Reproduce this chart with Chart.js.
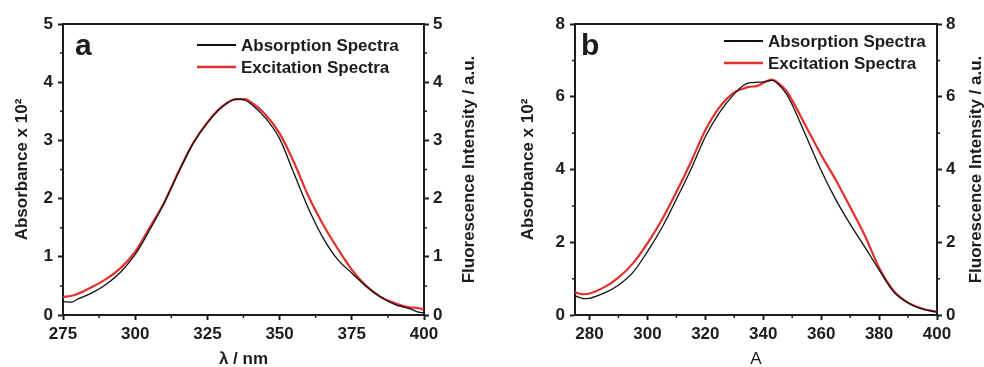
<!DOCTYPE html>
<html>
<head>
<meta charset="utf-8">
<script src="https://cdn.jsdelivr.net/npm/chart.js@4.4.0/dist/chart.umd.min.js"></script>
<style>
    body { margin: 0; background: #fff; }
    .panel { position: absolute; top: 0; height: 367px; }
</style>
</head>
<body>
<div class="panel" style="left:0;width:490px"><canvas id="chartA" width="490" height="367"></canvas></div>
<div class="panel" style="left:490px;width:494px"><canvas id="chartB" width="494" height="367"></canvas></div>
<script>
// panel a
const wavelengthA = [275, 278, 280, 285, 290, 295, 300, 305, 310, 315, 320, 325, 330, 335, 338, 340, 345, 350, 355, 360, 365, 370, 375, 380, 385, 390, 395, 398, 400];
const absorptionA = [0.23, 0.22, 0.27, 0.38, 0.53, 0.74, 1.04, 1.46, 1.92, 2.45, 2.94, 3.30, 3.57, 3.71, 3.69, 3.63, 3.39, 3.03, 2.43, 1.83, 1.33, 0.96, 0.72, 0.49, 0.31, 0.18, 0.11, 0.05, 0.04];
const excitationA = [0.31, 0.33, 0.36, 0.48, 0.62, 0.81, 1.09, 1.50, 1.93, 2.46, 2.95, 3.31, 3.58, 3.71, 3.71, 3.66, 3.45, 3.12, 2.62, 2.04, 1.56, 1.15, 0.78, 0.50, 0.31, 0.20, 0.13, 0.12, 0.09];
const xTicksA = [275, 300, 325, 350, 375, 400];
const xMinorA = [287.5, 312.5, 337.5, 362.5, 387.5];
const yTicksA = [0, 1, 2, 3, 4, 5];
const yMinorA = [0.5, 1.5, 2.5, 3.5, 4.5];

// panel b
const wavelengthB = [275, 278, 280, 285, 290, 295, 300, 305, 310, 315, 320, 325, 330, 333, 335, 338, 340, 343, 345, 348, 350, 355, 360, 365, 370, 375, 380, 385, 390, 395, 400];
const absorptionB = [0.53, 0.45, 0.46, 0.60, 0.82, 1.17, 1.74, 2.40, 3.18, 4.00, 4.90, 5.58, 6.08, 6.30, 6.38, 6.40, 6.41, 6.45, 6.36, 6.08, 5.78, 4.88, 3.97, 3.18, 2.50, 1.88, 1.24, 0.64, 0.33, 0.16, 0.08];
const excitationB = [0.62, 0.57, 0.59, 0.76, 1.03, 1.42, 1.97, 2.62, 3.38, 4.20, 5.08, 5.72, 6.12, 6.22, 6.27, 6.30, 6.38, 6.47, 6.39, 6.16, 5.90, 5.15, 4.40, 3.72, 2.97, 2.20, 1.30, 0.67, 0.34, 0.17, 0.09];
const xTicksB = [280, 300, 320, 340, 360, 380, 400];
const xMinorB = [290, 310, 330, 350, 370, 390];
const yTicksB = [0, 2, 4, 6, 8];
const yMinorB = [1, 3, 5, 7];

const seriesLabels = ['Absorption Spectra', 'Excitation Spectra'];
const axisColor = '#1c1c1c';
const black = '#111111';
const red = '#e2302a';

Chart.defaults.font.family = '"Liberation Sans", Arial, sans-serif';
Chart.defaults.font.size = 17;
Chart.defaults.font.weight = 'bold';
Chart.defaults.color = axisColor;

// top border + minor ticks
const frameTicks = {
    id: 'frameTicks',
    afterDraw(chart, args, opts) {
        const ctx = chart.ctx;
        const a = chart.chartArea;
        const sx = chart.scales.x;
        const sy = chart.scales.y;
        ctx.save();
        ctx.strokeStyle = axisColor;
        ctx.lineWidth = 2;
        ctx.beginPath();
        ctx.moveTo(a.left - 1, a.top);
        ctx.lineTo(a.right + 1, a.top);
        ctx.stroke();
        ctx.lineWidth = 1.5;
        ctx.beginPath();
        opts.xMinor.forEach(v => {
            const px = sx.getPixelForValue(v);
            ctx.moveTo(px, a.bottom);
            ctx.lineTo(px, a.bottom + 3);
        });
        opts.yMinor.forEach(v => {
            const py = sy.getPixelForValue(v);
            ctx.moveTo(a.left, py);
            ctx.lineTo(a.left - 3, py);
            ctx.moveTo(a.right, py);
            ctx.lineTo(a.right + 3, py);
        });
        ctx.stroke();
        ctx.restore();
    }
};

// legend, panel letter, right axis title (reads bottom to top)
const panelText = {
    id: 'panelText',
    afterDraw(chart, args, opts) {
        const ctx = chart.ctx;
        ctx.save();
        ctx.fillStyle = axisColor;
        ctx.font = 'bold 30px "Liberation Sans", Arial, sans-serif';
        ctx.textBaseline = 'alphabetic';
        ctx.fillText(opts.letter, opts.letterX, 55);

        ctx.font = 'bold 17px "Liberation Sans", Arial, sans-serif';
        ctx.textBaseline = 'middle';
        chart.data.datasets.forEach((ds, i) => {
            const y = opts.legendY + i * 22;
            ctx.strokeStyle = ds.borderColor;
            ctx.lineWidth = ds.borderWidth + 0.5;
            ctx.beginPath();
            ctx.moveTo(opts.legendX, y);
            ctx.lineTo(opts.legendX + 39, y);
            ctx.stroke();
            ctx.fillText(ds.label, opts.legendX + 44, y + 1);
        });

        const a = chart.chartArea;
        ctx.translate(opts.rightTitleX, (a.top + a.bottom) / 2);
        ctx.rotate(-Math.PI / 2);
        ctx.textAlign = 'center';
        ctx.textBaseline = 'alphabetic';
        ctx.fillText(opts.rightTitle, 0, 0);
        ctx.restore();
    }
};

function toPoints(xs, ys) {
    return xs.map((x, i) => ({ x: x, y: ys[i] }));
}

function fixedTicks(values) {
    return function (scale) {
        scale.ticks = values.map(v => ({ value: v }));
    };
}

function axisBase(tickValues, size, isX) {
    return {
        type: 'linear',
        min: tickValues[0] < 1 ? 0 : undefined,
        afterBuildTicks: fixedTicks(tickValues),
        afterFit: function (scale) {
            if (isX) scale.height = size; else scale.width = size;
        },
        grid: { drawOnChartArea: false, drawTicks: true, tickLength: 5, tickWidth: 2, color: axisColor },
        border: { display: true, width: 2, color: axisColor },
        ticks: { padding: 4, color: axisColor }
    };
}

function createSpectraChart(canvasId, cfg) {
    const ctx = document.getElementById(canvasId).getContext('2d');

    const x = axisBase(cfg.xTicks, 52, true);
    x.position = 'bottom';
    x.min = cfg.xMin;
    x.max = cfg.xMax;
    x.title = { display: true, text: cfg.xTitle, font: { weight: cfg.xTitleWeight }, padding: { top: 0, bottom: -3 } };

    const y = axisBase(cfg.yTicks, cfg.leftWidth, false);
    y.position = 'left';
    y.min = 0;
    y.max = cfg.yMax;
    y.ticks.padding = 5;
    y.title = { display: true, text: 'Absorbance x 10\u00B2', padding: { top: cfg.leftTitlePad, bottom: 0 } };

    const y2 = axisBase(cfg.yTicks, cfg.rightWidth, false);
    y2.position = 'right';
    y2.min = 0;
    y2.max = cfg.yMax;

    return new Chart(ctx, {
        type: 'line',
        data: {
            datasets: [{
                label: seriesLabels[0],
                data: toPoints(cfg.wavelength, cfg.absorption),
                borderColor: black,
                borderWidth: 1.3,
                yAxisID: 'y'
            }, {
                label: seriesLabels[1],
                data: toPoints(cfg.wavelength, cfg.excitation),
                borderColor: red,
                borderWidth: 2.2,
                yAxisID: 'y2'
            }]
        },
        options: {
            responsive: false,
            animation: false,
            cubicInterpolationMode: 'monotone',
            elements: { point: { radius: 0 }, line: { cubicInterpolationMode: 'monotone' } },
            layout: { padding: { top: 24, left: 0, right: 0, bottom: 0 } },
            scales: { x: x, y: y, y2: y2 },
            plugins: {
                legend: { display: false },
                tooltip: { enabled: false },
                frameTicks: { xMinor: cfg.xMinor, yMinor: cfg.yMinor },
                panelText: {
                    letter: cfg.letter,
                    letterX: cfg.letterX,
                    legendX: cfg.legendX,
                    legendY: cfg.legendY,
                    rightTitle: 'Fluorescence Intensity / a.u.',
                    rightTitleX: cfg.rightTitleX
                }
            }
        },
        plugins: [frameTicks, panelText]
    });
}

createSpectraChart('chartA', {
    wavelength: wavelengthA, absorption: absorptionA, excitation: excitationA,
    xTicks: xTicksA, xMinor: xMinorA, yTicks: yTicksA, yMinor: yMinorA,
    xMin: 275, xMax: 400, yMax: 5,
    xTitle: '\u03BB / nm', xTitleWeight: 'bold',
    leftWidth: 63, rightWidth: 66, leftTitlePad: 12,
    letter: 'a', letterX: 75, legendX: 197, legendY: 45, rightTitleX: 474
});

createSpectraChart('chartB', {
    wavelength: wavelengthB, absorption: absorptionB, excitation: excitationB,
    xTicks: xTicksB, xMinor: xMinorB, yTicks: yTicksB, yMinor: yMinorB,
    xMin: 275, xMax: 400, yMax: 8,
    xTitle: 'A', xTitleWeight: 'normal',
    leftWidth: 85, rightWidth: 47, leftTitlePad: 28,
    letter: 'b', letterX: 91, legendX: 234, legendY: 41, rightTitleX: 491
});
</script>
</body>
</html>
